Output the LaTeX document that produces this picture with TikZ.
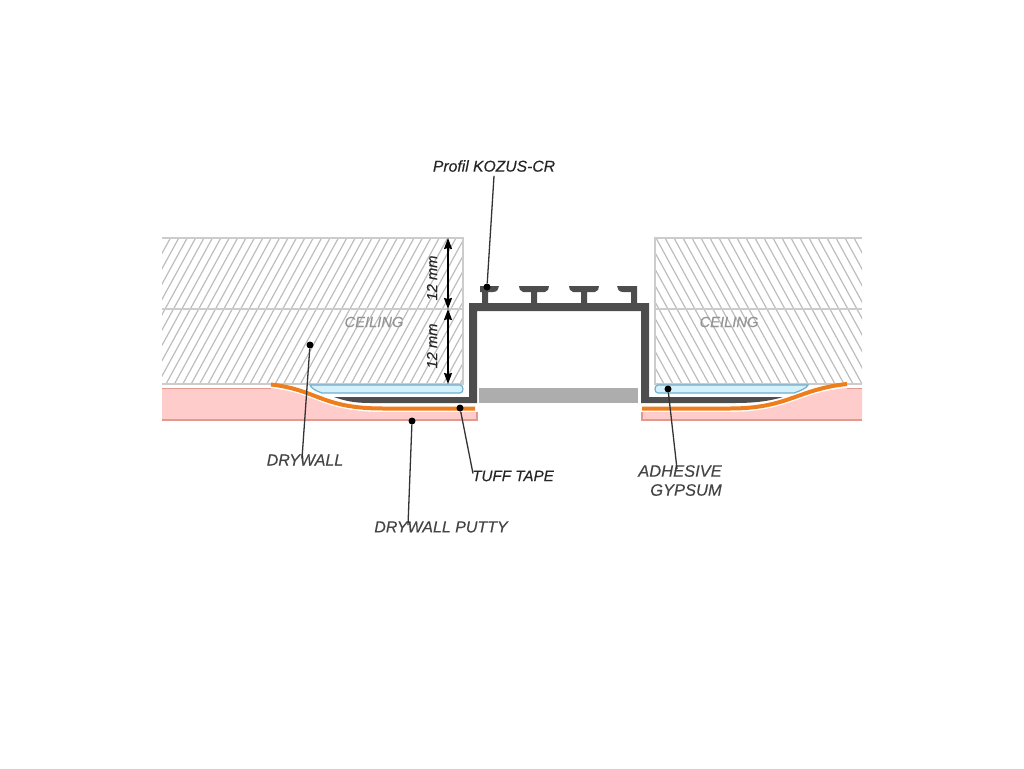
\documentclass[tikz,border=0pt]{standalone}
\usepackage{fontspec}
\setmainfont[ItalicFeatures={FakeBold=0.22}]{Liberation Sans}
\usetikzlibrary{arrows.meta}
\definecolor{profilgray}{HTML}{4D4D4D}
\definecolor{hatchgray}{HTML}{BDBDBD}
\definecolor{tapeorange}{HTML}{EE7D1B}
\definecolor{wallpink}{HTML}{FFCCCC}
\definecolor{wallline}{HTML}{E39A8E}
\definecolor{gluefill}{HTML}{D5F1FC}
\definecolor{glueline}{HTML}{6FAFD0}
\definecolor{labelgray}{HTML}{444444}
\tikzset{
  leader/.style = {draw=black!80, line width=1.3pt},
  leaderdot/.style = {circle, fill=black, inner sep=0pt, minimum size=7pt},% punkt na konci
  lbl/.style = {inner sep=0pt, text=labelgray, font=\fontsize{16}{20}\selectfont\itshape},
  lblblack/.style = {lbl, text=black!85},
  ceil/.style = {lbl, text=black!42, font=\fontsize{14.7}{18}\selectfont\itshape},
  dimtext/.style = {lblblack, rotate=90, font=\fontsize{14.7}{18}\selectfont\itshape},
  dimline/.style = {line width=1.3pt, {Stealth[length=11pt,width=8pt,inset=1pt]}-{Stealth[length=11pt,width=8pt,inset=1pt]}},
  hatch/.style = {hatchgray, line width=1.2pt},
  frame/.style = {draw=black!20, line width=1.5pt},
  tape/.style = {tapeorange, line width=4pt},
  wall/.style = {fill=wallpink, draw=none},
  glue/.style = {fill=gluefill, draw=glueline, line width=1.2pt},
  profil/.style = {fill=profilgray, draw=none}
}
\begin{document}
\begin{tikzpicture}[x=1pt,y=-1pt]
\useasboundingbox (0,0) rectangle (1024,768);
% ceiling left
\begin{scope}
  \clip (162,238) rectangle (463,384);
  \foreach \i in {0,8.4,...,390}
    \draw[hatch] (162+\i-80,384) -- (162+\i,238);
\end{scope}
\draw[frame] (162,384) -- (463,384) -- (463,238) -- (162,238);
\draw[frame] (162,309) -- (463,309);
% ceiling right
\begin{scope}
  \clip (655,238) rectangle (862,384);
  \foreach \i in {0,9,...,300}
    \draw[hatch] (655+\i-80,238) -- (655+\i,384);
\end{scope}
\draw[frame] (862,238) -- (655,238) -- (655,384) -- (862,384);
\draw[frame] (655,309) -- (862,309);
% drywall left
\path[wall] (162,388) -- (271,388) .. controls (318,393) and (322,411.5) .. (383,411.5)
  -- (477,411.5) -- (477,420) -- (162,420) -- cycle;
\draw[wallline, line width=1pt] (162,388) -- (271,388);
\draw[wallline, line width=1.2pt] (162,420) -- (477,420) -- (477,412);
\draw[white, line width=0.8pt] (271,387.5) .. controls (318,393) and (322,411.5) .. (383,411.5) -- (477,411.5);
% drywall right
\path[wall] (862,388) -- (847,388) .. controls (798,392) and (788,411.5) .. (730,411.5)
  -- (642,411.5) -- (642,420) -- (862,420) -- cycle;
\draw[wallline, line width=1pt] (862,388) -- (847,388);
\draw[wallline, line width=1.2pt] (862,420) -- (642,420) -- (642,412);
\draw[white, line width=0.8pt] (847,387) .. controls (798,392) and (788,411.5) .. (730,411.5) -- (642,411.5);
% glue
\draw[glue] (310,385) -- (460,385) .. controls (464,385) and (464,393) .. (460,393)
  -- (322,393) .. controls (316,391) and (311,388) .. (310,385) -- cycle;
\draw[glue] (808,385) -- (658,385) .. controls (654,385) and (654,393) .. (658,393)
  -- (794,393) .. controls (800,391) and (807,388) .. (808,385) -- cycle;
% profil
\path[profil] (469,303) -- (649,303) -- (649,397) -- (783,397)
  .. controls (770,401) and (755,403) .. (735,403) -- (641,403) -- (641,311) -- (477,311)
  -- (477,403) -- (370,403) .. controls (355,403) and (345,401) .. (334,397) -- (469,397) -- cycle;
\foreach \x in {534,584}
  \path[profil] (\x-3,304) -- (\x-3,292) -- (\x-11,292) .. controls (\x-14,291) and (\x-15,289) .. (\x-15,286)
    -- (\x+15,286) .. controls (\x+15,289) and (\x+14,291) .. (\x+11,292) -- (\x+3,292) -- (\x+3,304) -- cycle;
\path[profil] (482,304) -- (482,292) -- (480,292) -- (480,286) -- (499,286)
  .. controls (499,289) and (497,292) .. (493,292) -- (488,292) -- (488,304) -- cycle;
\path[profil] (637,304) -- (637,286) -- (617,286) .. controls (617,289) and (619,292) .. (623,292)
  -- (631,292) -- (631,304) -- cycle;
\fill[black!32] (479,388) rectangle (638,403);
% tuff tape
\draw[tape] (271,384.5) .. controls (318,390) and (322,408.5) .. (383,408.5) -- (475,408.5);
\draw[tape] (847,384) .. controls (798,389) and (788,408.5) .. (730,408.5) -- (642,408.5);
% dimensions
\coordinate (dimA) at (448,238);
\coordinate (dimB) at (448,309);
\coordinate (dimC) at (448,384);
\draw[dimline] (dimA) -- (dimB);
\draw[dimline] (dimB) -- (dimC);
\node[dimtext] (dimTop) at (432,278) {12 mm};
\node[dimtext] (dimBot) at (432,346) {12 mm};
% texts
\node[ceil] (ceilL) at (374,322) {CEILING};
\node[ceil] (ceilR) at (729,322) {CEILING};
\node[lblblack, font=\fontsize{15.7}{18}\selectfont\itshape] (lblProfil) at (494,166) {Profil KOZUS-CR};
\node[lbl] (lblDrywall) at (305,460) {DRYWALL};
\node[lbl] (lblPutty) at (441,527) {DRYWALL PUTTY};
\node[lblblack, font=\fontsize{15.2}{18}\selectfont\itshape] (lblTuff) at (513,476) {TUFF TAPE};
\node[lbl, align=right, font=\fontsize{16.5}{19}\selectfont\itshape] (lblGlue) at (680,480.5) {ADHESIVE\\GYPSUM};
% leaders
\node[leaderdot] (dotProfil) at (487,287) {};
\node[leaderdot] (dotDrywall) at (310,345) {};
\node[leaderdot] (dotPutty) at (412,421) {};
\node[leaderdot] (dotTuff) at (460,408) {};
\node[leaderdot] (dotGlue) at (668,389) {};
\draw[leader] ([yshift=-4pt]lblProfil.south) -- (dotProfil);
\draw[leader] ([xshift=-3pt,yshift=-4pt]lblDrywall.north) -- (dotDrywall);
\draw[leader] ([xshift=-33pt,yshift=-4pt]lblPutty.north) -- (dotPutty);
\draw[leader] ([xshift=1pt,yshift=-3pt]lblTuff.north west) -- (dotTuff);
\draw[leader] ([xshift=-3pt,yshift=-4pt]lblGlue.north) -- (dotGlue);
\end{tikzpicture}
\end{document}
